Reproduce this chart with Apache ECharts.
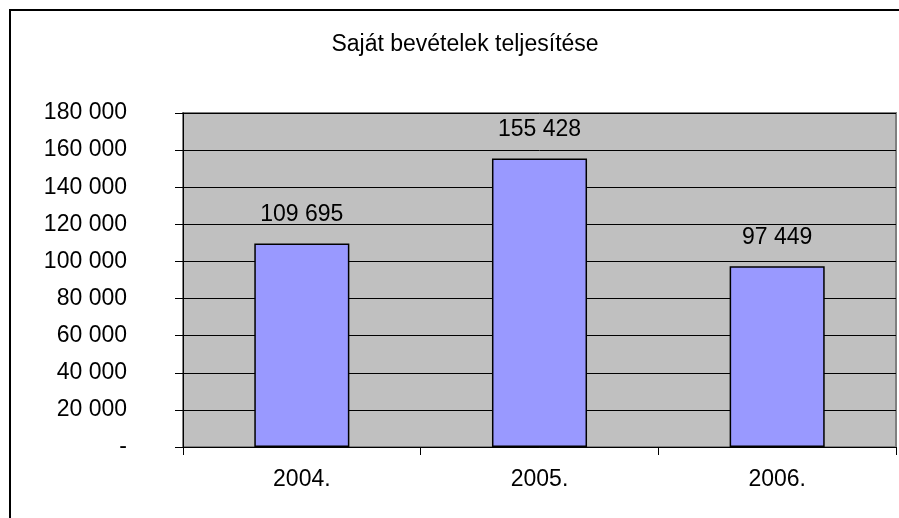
<!DOCTYPE html>
<html>
<head>
<meta charset="utf-8">
<script src="https://cdn.jsdelivr.net/npm/echarts@6/dist/echarts.min.js"></script>
<style>
  html, body { margin: 0; padding: 0; background: #fff; }
  #chart { width: 899px; height: 518px; }
</style>
</head>
<body>
<div id="chart"></div>
<script>
const years = ["2004.", "2005.", "2006."];
const revenue = [109695, 155428, 97449];
const yTicks = [0, 20000, 40000, 60000, 80000, 100000, 120000, 140000, 160000, 180000];

// szám formázás szóközzel
function fmt(v) {
  if (v === 0) return "-";
  return String(v).replace(/\B(?=(\d{3})+(?!\d))/g, " ");
}

const myChart = echarts.init(document.getElementById("chart"));
const font = "'Liberation Sans', Arial, sans-serif";
const fs = 23;
const option = {
  animation: false,
  title: {
    text: "Saját bevételek teljesítése",
    left: 460,
    top: 28,
    textAlign: "center",
    textStyle: { fontFamily: font, fontSize: fs, fontWeight: "normal", color: "#000" }
  },
  graphic: [{
    type: "rect",
    shape: { x: 10, y: 10, width: 1200, height: 900 },
    style: { fill: "none", stroke: "#000", lineWidth: 2 },
    silent: true
  }],
  grid: {
    left: 183,
    top: 113,
    right: 3,
    bottom: 71,
    show: true,
    backgroundColor: "#C0C0C0",
    borderColor: "#808080",
    borderWidth: 2
  },
  xAxis: {
    type: "category",
    data: years,
    axisLine: { lineStyle: { color: "#000", width: 1 } },
    axisTick: { show: true, length: 8, lineStyle: { color: "#000" } },
    axisLabel: { margin: 21, fontFamily: font, fontSize: fs, color: "#000" }
  },
  yAxis: {
    type: "value",
    min: 0,
    max: yTicks[yTicks.length - 1],
    interval: 20000,
    axisLine: { show: true, lineStyle: { color: "#000", width: 1 } },
    axisTick: { show: true, length: 8, lineStyle: { color: "#000" } },
    splitLine: { show: true, lineStyle: { color: "#000", width: 1 } },
    axisLabel: {
      margin: 56,
      fontFamily: font,
      fontSize: fs,
      color: "#000",
      formatter: fmt
    }
  },
  series: [{
    type: "bar",
    data: revenue,
    barWidth: "40%",
    itemStyle: { color: "#9999FF", borderColor: "#000", borderWidth: 1.5 },
    label: {
      show: true,
      position: "top",
      distance: 17,
      fontFamily: font,
      fontSize: fs,
      color: "#000",
      formatter: p => fmt(p.value)
    }
  }]
};
myChart.setOption(option);
</script>
</body>
</html>
